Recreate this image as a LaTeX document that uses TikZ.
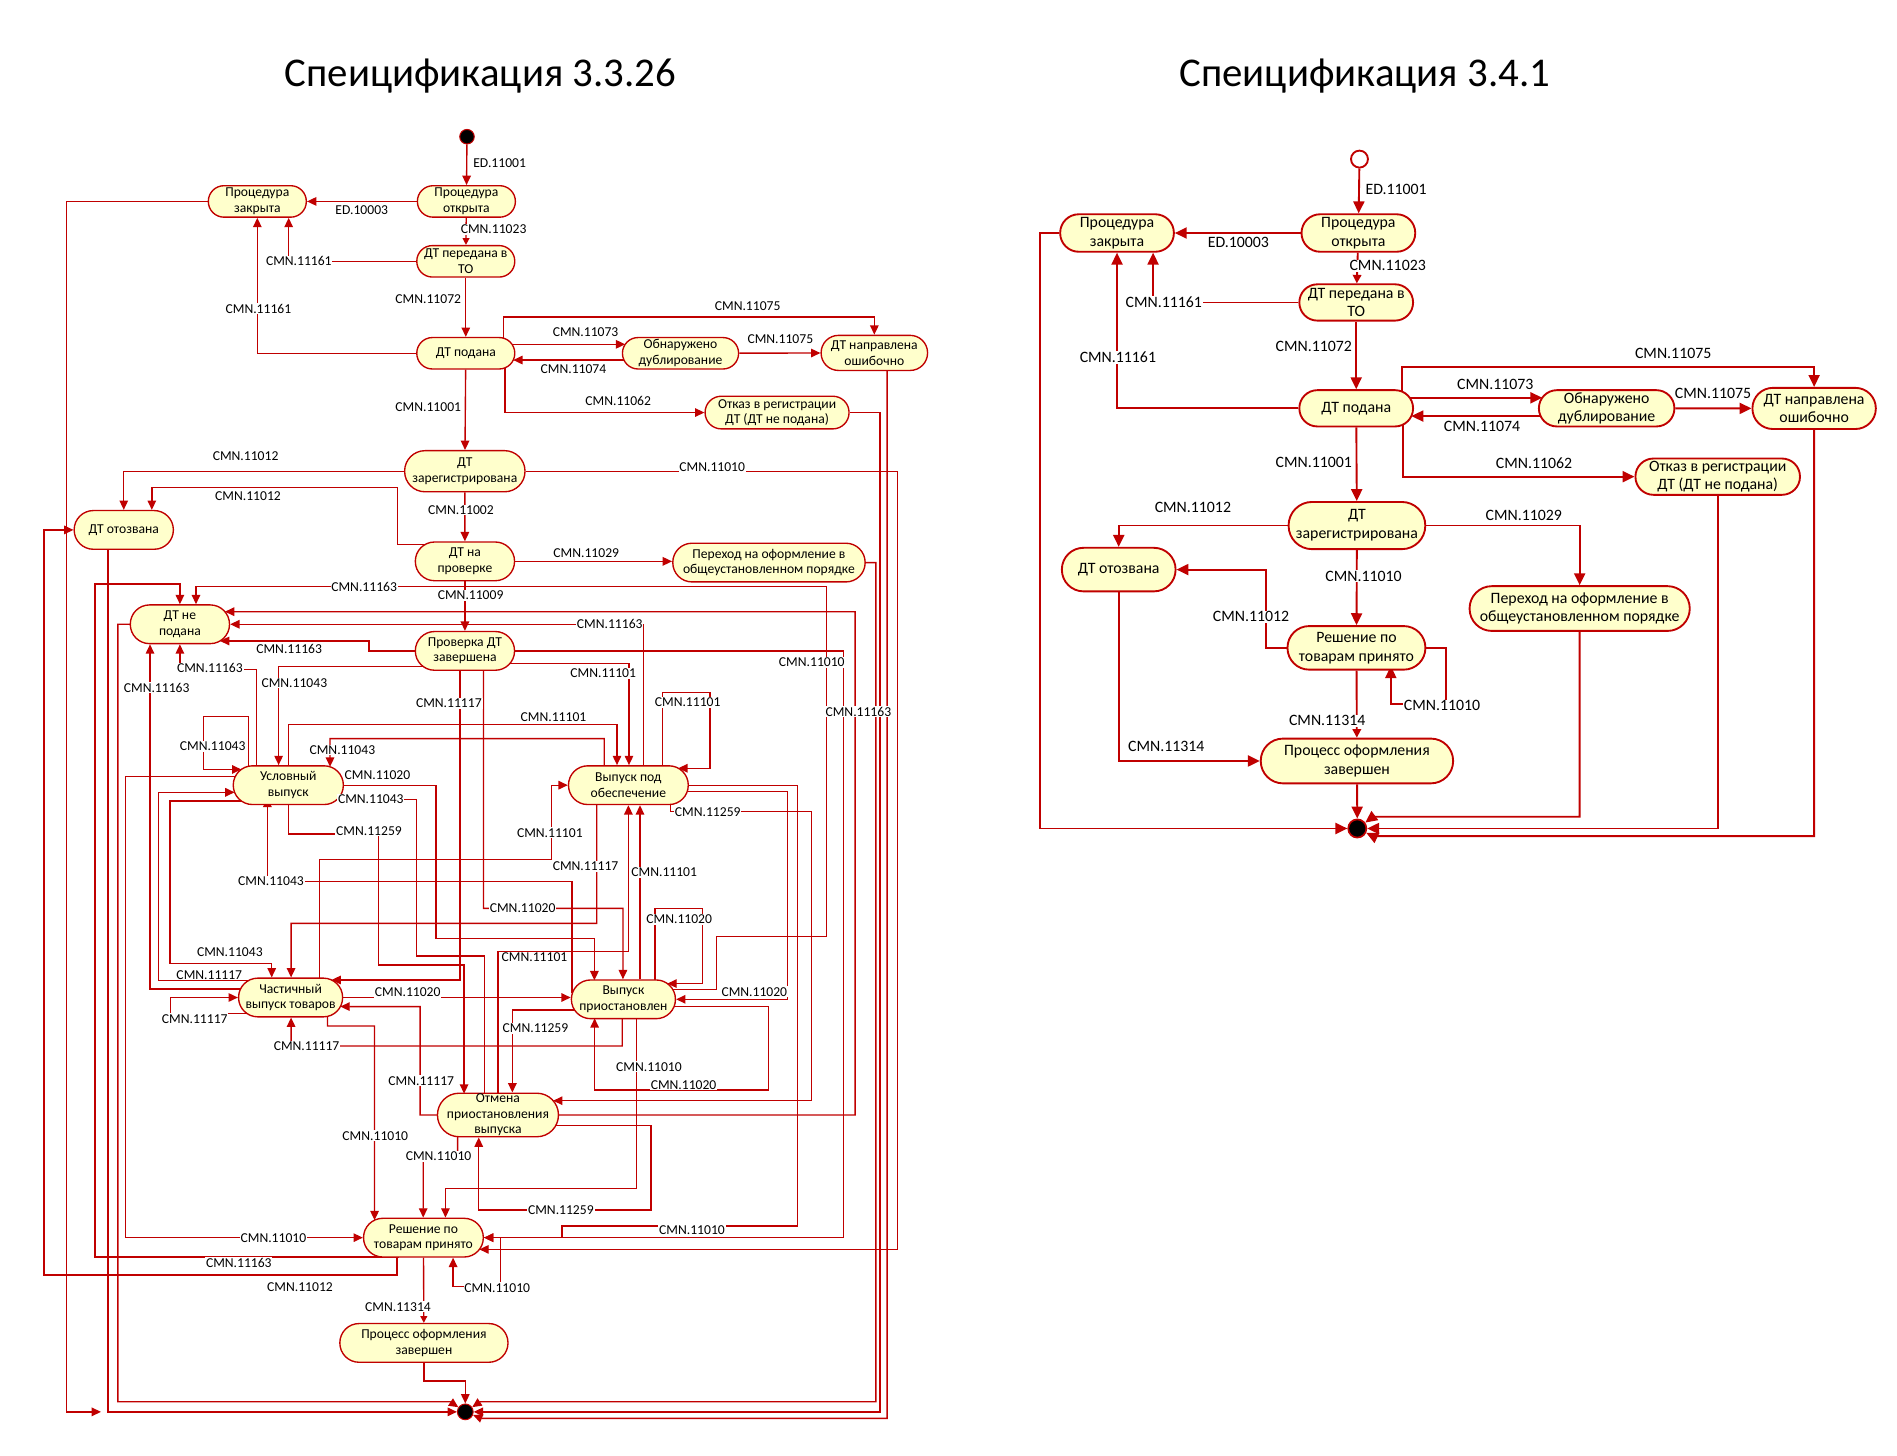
\documentclass[tikz,border=0pt]{standalone}
\usepackage{fontspec}
\setmainfont{Carlito}
\usetikzlibrary{arrows.meta,calc,backgrounds}
\definecolor{dred}{RGB}{192,0,0}
\definecolor{pale}{RGB}{255,255,204}
\newcommand{\sfnt}{\fontsize{8}{9.2}\selectfont}
\newcommand{\bfnt}{\fontsize{9.3}{11}\selectfont}
\tikzstyle{state} = [rectangle, draw=dred, fill=pale, align=center, inner sep=0pt]
\tikzset{
  lst/.style 2 args={state, line width=0.8pt, font=\sfnt, minimum width=#1*0.025cm,
    minimum height=#2*0.025cm, rounded corners=#2*0.0124cm},
  rst/.style 2 args={state, line width=1.1pt, font=\bfnt, minimum width=#1*0.025cm,
    minimum height=#2*0.025cm, rounded corners=#2*0.0124cm}
}
\tikzstyle{dot} = [circle, fill=black, draw=dred, line width=0.6pt, inner sep=0pt]
\tikzstyle{tr} = [draw=dred, line width=0.8pt]
\tikzstyle{rtr} = [draw=dred, line width=1.1pt]
\tikzstyle{lbl} = [fill=white, inner sep=0.5pt, font=\sfnt]
\tikzstyle{rlbl} = [fill=white, inner sep=0.5pt, font=\bfnt]

\begin{document}
\begin{tikzpicture}[x=0.025cm, y=-0.025cm, >={Triangle[length=5.5pt,width=5pt]}]
\useasboundingbox (0,0) rectangle (1568,1203);

% titles
\node[font=\fontsize{24}{28}\selectfont] (ttl) at (397,63) {Спеицификация 3.3.26};
\node[font=\fontsize{24}{28}\selectfont] (ttr) at (1128,63) {Спеицификация 3.4.1};

% ---------------- specification 3.3.26 ----------------
\node[dot, minimum size=0.3cm] (li) at (386,113) {};
\node[lst={81}{26}] (lopen) at (385.5,166.5) {Процедура\\открыта};
\node[lst={81}{26}] (lclosed) at (212.7,166.5) {Процедура\\закрыта};
\node[lst={81}{26}] (lsent) at (385,216) {ДТ передана в\\ТО};
\node[lst={81}{26}] (lfiled) at (385,292) {ДТ подана};
\node[lst={96}{26}] (ldup) at (562.5,292) {Обнаружено\\дублирование};
\node[lst={88}{29}] (lwrong) at (722.7,291.7) {ДТ направлена\\ошибочно};
\node[lst={119}{27}] (lrefuse) at (642.3,341) {Отказ в регистрации\\ДТ (ДТ не подана)};
\node[lst={99.5}{34}] (lreg) at (384.2,389.5) {ДТ\\зарегистрирована};
\node[lst={82}{32}] (lrecall) at (102.3,438) {ДТ отозвана};
\node[lst={82}{32}] (lcheck) at (384.3,464) {ДТ на\\проверке};
\node[lst={159}{32}] (lgen) at (635.6,465) {Переход на оформление в\\общеустановленном порядке};
\node[lst={82}{32}] (lnot) at (148.7,516) {ДТ не\\подана};
\node[lst={82}{32}] (ldone) at (384.3,538) {Проверка ДТ\\завершена};
\node[lst={91}{32}] (lcond) at (238.3,649) {Условный\\выпуск};
\node[lst={99}{32}] (lsec) at (519.4,649) {Выпуск под\\обеспечение};
\node[lst={86}{32}] (lpart) at (240.2,824.5) {Частичный\\выпуск товаров};
\node[lst={86}{32}] (lsusp) at (515.3,826) {Выпуск\\приостановлен};
\node[lst={100}{36}] (lcancel) at (411.6,921.6) {Отмена\\приостановления\\выпуска};
\node[lst={99}{32}] (ldec) at (350,1023) {Решение по\\товарам принято};
\node[lst={139}{32}] (lend) at (350.4,1110) {Процесс оформления\\завершен};
\node[dot, minimum size=0.325cm] (lf) at (384.6,1167) {};
\coordinate (lstub) at (83.5,1167);

% ---------------- specification 3.4.1 ----------------
\node[circle, draw=dred, fill=white, line width=1.1pt, minimum size=0.35cm, inner sep=0pt] (ri) at (1123.7,131.5) {};
\node[rst={94}{31}] (ropen) at (1122.8,192.6) {Процедура\\открыта};
\node[rst={94}{31}] (rclosed) at (923.3,192.6) {Процедура\\закрыта};
\node[rst={94}{30}] (rsent) at (1121,250) {ДТ передана в\\ТО};
\node[rst={94}{30}] (rfiled) at (1121,337.5) {ДТ подана};
\node[rst={112}{30}] (rdup) at (1328,337.5) {Обнаружено\\дублирование};
\node[rst={102}{34}] (rwrong) at (1499.5,337.6) {ДТ направлена\\ошибочно};
\node[rst={136}{30}] (rrefuse) at (1419.8,394) {Отказ в регистрации\\ДТ (ДТ не подана)};
\node[rst={113}{39}] (rreg) at (1121.6,434.4) {ДТ\\зарегистрирована};
\node[rst={94}{36}] (rrecall) at (924.7,470.8) {ДТ отозвана};
\node[rst={182}{37}] (rgen) at (1305.7,503) {Переход на оформление в\\общеустановленном порядке};
\node[rst={114}{36}] (rdec) at (1121.2,535.5) {Решение по\\товарам принято};
\node[rst={159}{37}] (rend) at (1121.6,629) {Процесс оформления\\завершен};
\node[dot, line width=1pt, minimum size=0.375cm] (rf) at (1121.9,684.8) {};

\begin{scope}[on background layer]
  % left connectors
  \draw[tr,->] (li) -- (lopen);
  \draw[tr,->] (lopen) -- (lclosed);
  \draw[tr,-{Triangle[length=4pt,width=4pt]}] (lopen) -- (lsent);
  \draw[tr,->] (lsent.west) -| ($(lclosed.south)+(25.9,0)$);
  \draw[tr,->] (lfiled.west) -| (lclosed.south);
  \draw[tr,->] (lsent) -- (lfiled);
  \draw[tr,->] ($(lfiled)+(31,-10)$) -- (416,262) -| (lwrong.north);
  \draw[tr,->] ($(lfiled)+(30,-7.4)$) -- ($(ldup)+(-45.7,-7.4)$);
  \draw[tr,->] ($(ldup)+(-40,5.6)$) -- ($(lfiled)+(39.2,5.6)$);
  \draw[tr,->] (ldup) -- (lwrong);
  \draw[tr,->] ($(lfiled)+(32.4,8)$) |- (lrefuse.west);
  \draw[tr,->] (lfiled) -- (lreg);
  \draw[tr,->] (lreg.west) -| (lrecall.north);
  \draw[tr,->] (lreg.east) -- (742,389.5) |- ($(ldec)+(46.2,9.7)$);
  \draw[tr,->] (lreg) -- (lcheck);
  \draw[tr,->] ($(lcheck)+(-20,-14)$) -- (328.3,450) -- (328.3,403) -| ($(lrecall.north)+(23.2,0)$);
  \draw[tr,->] (lcheck.east) -- (lcheck.east -| lgen.west);
  \draw[tr,->] (lcheck) -- (ldone);
  \draw[tr,->] (lgen.east) -| (724,1158.6) -- (397,1158.6) -- (lf);
  \draw[tr,->] (lrefuse.east) -| (727.5,1167) -- (lf);
  \draw[tr,->] ($(lwrong)+(10.6,10)$) |- (398,1172.4) -- (lf);
  \draw[tr,->] (lclosed.west) -| (55,1167) -- (lstub);
  \draw[tr,->] ($(lrecall)+(-13.1,10)$) |- (lf);
  \draw[tr,->] ($(lnot)+(-40,0)$) -| (97.4,1158.6) -- (372,1158.6) -- (lf);
  \draw[tr,->] ($(ldec)+(-20,16)$) -| (78.4,482.7) -| (lnot.north);
  \draw[tr,->] ($(ldec)+(-22,10)$) |- (36.4,1054) |- (lrecall.west);
  \draw[tr,->] ($(lcond)+(-30,-7)$) -| (103.7,1023) -- (ldec.west);
  \draw[tr,->] ($(lsusp)+(30,-8)$) -| (592.4,774.2) -| (683.4,485) -| ($(lnot.north)+(13.3,0)$);
  \draw[tr,->] (lcancel.east) -| (706.8,505.6) -- ($(lnot)+(37.2,-10.4)$);
  \draw[tr,->] ($(lsec)+(12.4,-10)$) |- (lnot.east);
  \draw[tr,->] (ldone.west) -| (305,529.8) -- ($(lnot)+(33.1,13.8)$);
  \draw[tr,->] ($(lcond)+(-26.1,-10)$) |- ($(lnot.south)+(0,21)$) -- (lnot.south);
  \draw[tr,->] ($(lpart)+(-40,-7)$) -| ($(lnot.south)+(-24.7,0)$);
  \draw[tr,->] ($(ldone)+(-22,13)$) -| ($(lcond.north)+(-8,0)$);
  \draw[tr,->] ($(lcond)+(-33,-10)$) |- (168,592.3) |- ($(lcond)+(-38.8,-13)$);
  \draw[tr,->] ($(lsec)+(-19.9,-10)$) |- (272.8,610.5) -- ($(lcond)+(34.5,-15.2)$);
  \draw[tr,->] (lcond) |- (510,598.7) -- ($(lsec.north)+(-9.4,0)$);
  \draw[tr,->] ($(ldone)+(20,10.3)$) -| ($(lsec.north)+(0.5,0)$);
  \draw[tr,->] ($(lsec)+(28.4,-10)$) |- (587,572.2) |- ($(lsec)+(41.2,-14)$);
  \draw[tr,->] ($(lpart)+(23.8,-10)$) |- (455.8,710.3) |- (lsec.west);
  \draw[tr,->] ($(lsusp.north)+(13.7,0)$) -- ($(lsec.south)+(9.6,0)$);
  \draw[tr,->] ($(lcancel)+(-0.1,-10)$) |- (519.4,786.6) -- (lsec.south);
  \draw[tr,->] ($(lsec)+(-26.2,10)$) |- (240.6,763.2) -- ($(lpart.north)+(0.4,0)$);
  \draw[tr,->] ($(ldone)+(-4,10)$) |- ($(lpart)+(33.8,-14.5)$);
  \draw[tr,->] ($(lcond)+(-23,13)$) -| (140.5,796.3) -| ($(lpart.north)+(-15.6,0)$);
  \draw[tr,->] ($(lpart)+(-25,-14)$) -| (130.9,654.9) -- ($(lcond)+(-44.4,5.9)$);
  \draw[tr,->] ($(lpart)+(-33,13)$) -| (141,824.5) -- (lpart.west);
  \draw[tr,->] ($(lsusp)+(-1,10)$) |- (240.6,864.6) -- ($(lpart.south)+(0.4,0)$);
  \draw[tr,->] (lcancel.west) -| (347.3,832) -- ($(lpart)+(41.1,7.5)$);
  \draw[tr,->] (lpart.east) -- (lsusp.west |- lpart.east);
  \draw[tr,->] (lcond.east) -| (360.4,775.6) -| ($(lsusp)+(-24,-15.7)$);
  \draw[tr,->] ($(ldone)+(15.3,10)$) |- (514.9,750.8) -- ($(lsusp.north)+(-0.4,0)$);
  \draw[tr,->] ($(lsusp)+(26.2,-10)$) |- (580.6,750.8) |- ($(lsusp)+(36.3,-13)$);
  \draw[tr,->] ($(lsec)+(35,5.4)$) -| (650.7,826) -- (lsusp.east);
  \draw[tr,->] ($(lsusp)+(30,6)$) -| (635.4,901) -| ($(lsusp)+(-23.8,15.7)$);
  \draw[tr,->] ($(lcond)+(0.1,10)$) |- (312.6,689.3) |- (383.6,797.6) -- ($(lcancel)+(-28,-17.6)$);
  \draw[tr,->] ($(lsec)+(35,10)$) |- (670.8,670.9) |- ($(lcancel)+(45.6,-11.8)$);
  \draw[tr,->] ($(lsusp)+(-30,8.8)$) -| ($(lcancel.north)+(11.9,0)$);
  \draw[tr,->] ($(lcancel)+(40,8.9)$) -| (538,1000.2) -| ($(lcancel.south)+(-15.9,0)$);
  \draw[tr,->] ($(lcancel)+(-11.2,-10)$) |- (344.4,790.2) |- ($(lcond)+(40.4,11.7)$);
  \draw[tr,->] ($(lsusp.west)+(1,-5)$) |- (221,728.7) -- ($(lcond)+(-17.3,10.4)$);
  \draw[tr,->] ($(lsusp)+(10.9,10)$) |- (368.2,982.3) -- ($(ldec.north)+(18.2,0)$);
  \draw[tr,->] ($(lpart)+(30.5,10)$) |- (309.6,848) -- ($(ldec)+(-40.4,-14.4)$);
  \draw[tr,->] ($(lcancel)+(-33.3,10)$) |- (349.8,956) -- ($(ldec.north)+(-0.2,0)$);
  \draw[tr,->] (lsec.east) -| (659,1013.4) -| (464.6,1023) -- (ldec.east);
  \draw[tr,->] (ldone.east) -| (697.3,1023) -- (ldec.east);
  \draw[tr,->] ($(ldec)+(40,0)$) -| (413.7,1063.5) -| ($(ldec.south)+(24.5,0)$);
  \draw[tr,-{Triangle[length=4pt,width=4pt]}] (ldec) -- (lend);
  \draw[tr,->] (lend) |- (384.6,1141.6) -- (lf);
\end{scope}

\begin{scope}[on background layer, >={Triangle[length=7pt,width=6.5pt]}]
  % right connectors
  \draw[rtr,->] (ri) -- (ropen);
  \draw[rtr,->] (ropen) -- (rclosed);
  \draw[rtr,-{Triangle[length=5pt,width=5pt]}] (ropen) -- (rsent);
  \draw[rtr,->] (rsent.west) -| ($(rclosed.south)+(29.8,0)$);
  \draw[rtr,->] (rfiled.west) -| (rclosed.south);
  \draw[rtr,->] (rsent) -- (rfiled);
  \draw[rtr,->] ($(rfiled)+(37.9,-10)$) -- (1158.9,303.1) -| (rwrong.north);
  \draw[rtr,->] ($(rfiled)+(35,-8.7)$) -- ($(rdup)+(-53.2,-8.7)$);
  \draw[rtr,->] ($(rdup)+(-45,6.4)$) -- ($(rfiled)+(45.6,6.4)$);
  \draw[rtr,->] (rdup) -- (rwrong);
  \draw[rtr,->] ($(rfiled)+(38.8,10)$) |- (rrefuse.west);
  \draw[rtr,->] (rfiled) -- (rreg);
  \draw[rtr,->] (rreg.west) -| (rrecall.north);
  \draw[rtr,->] (rreg.east) -| (rgen.north);
  \draw[rtr,->] (rreg) -- (rdec);
  \draw[rtr,->] (rdec.west) -| (1046.5,470.8) -- (rrecall.east);
  \draw[rtr,->] (rdec.east) -| (1195.4,582) -| ($(rdec)+(28.4,15.1)$);
  \draw[rtr,-{Triangle[length=5pt,width=5pt]}] (rdec) -- (rend);
  \draw[rtr,->] (rrecall) |- (rend.west);
  \draw[rtr,->] (rend) -- (rf);
  \draw[rtr,->] (rclosed.west) -| (859.3,684.8) -- (rf);
  \draw[rtr,->] (rgen) |- (1135,675.1) -- (rf);
  \draw[rtr,->] (rrefuse) |- (rf);
  \draw[rtr,->] (rwrong) |- (1135,691.1) -- (rf);
\end{scope}

% left labels
\node[lbl] (m1) at (413,135) {ED.11001};
\node[lbl] (m2) at (299,173.5) {ED.10003};
\node[lbl] (m3) at (408,189.6) {CMN.11023};
\node[lbl] (m4) at (247,216) {CMN.11161};
\node[lbl] (m5) at (213.6,255.4) {CMN.11161};
\node[lbl] (m6) at (354,247.2) {CMN.11072};
\node[lbl] (m7) at (618,252.7) {CMN.11075};
\node[lbl] (m8) at (484,274.7) {CMN.11073};
\node[lbl] (m9) at (645,280.5) {CMN.11075};
\node[lbl] (m10) at (474,304.8) {CMN.11074};
\node[lbl] (m11) at (511,331.2) {CMN.11062};
\node[lbl] (m12) at (354,336.7) {CMN.11001};
\node[lbl] (m13) at (203,377) {CMN.11012};
\node[lbl] (m14) at (588.7,386) {CMN.11010};
\node[lbl] (m15) at (205,410) {CMN.11012};
\node[lbl] (m16) at (381,421.5) {CMN.11002};
\node[lbl] (m17) at (484.6,457.6) {CMN.11029};
\node[lbl] (m18) at (301,485) {CMN.11163};
\node[lbl] (m19) at (389,492.3) {CMN.11009};
\node[lbl] (m20) at (504,516) {CMN.11163};
\node[lbl] (m21) at (239,536.7) {CMN.11163};
\node[lbl] (m22) at (671,547.5) {CMN.11010};
\node[lbl] (m23) at (173.5,552.4) {CMN.11163};
\node[lbl] (m24) at (498.6,556.6) {CMN.11101};
\node[lbl] (m25) at (243.3,564.5) {CMN.11043};
\node[lbl] (m26) at (129.5,568.4) {CMN.11163};
\node[lbl] (m27) at (371,581.3) {CMN.11117};
\node[lbl] (m28) at (568.4,580.5) {CMN.11101};
\node[lbl] (m29) at (709.5,588.2) {CMN.11163};
\node[lbl] (m30) at (457.5,592.4) {CMN.11101};
\node[lbl] (m31) at (175.8,617) {CMN.11043};
\node[lbl] (m32) at (283,619.9) {CMN.11043};
\node[lbl] (m33) at (312,641) {CMN.11020};
\node[lbl] (m34) at (306.5,660.7) {CMN.11043};
\node[lbl] (m35) at (585,670.9) {CMN.11259};
\node[lbl] (m36) at (305,686.9) {CMN.11259};
\node[lbl] (m37) at (454.5,688.3) {CMN.11101};
\node[lbl] (m38) at (484,716.3) {CMN.11117};
\node[lbl] (m39) at (549,721) {CMN.11101};
\node[lbl] (m40) at (224,728.7) {CMN.11043};
\node[lbl] (m41) at (432,750.8) {CMN.11020};
\node[lbl] (m42) at (561.4,759.9) {CMN.11020};
\node[lbl] (m43) at (190,786.6) {CMN.11043};
\node[lbl] (m44) at (441.8,791.5) {CMN.11101};
\node[lbl] (m45) at (173,806) {CMN.11117};
\node[lbl] (m46) at (337,820.2) {CMN.11020};
\node[lbl] (m47) at (623.5,819.7) {CMN.11020};
\node[lbl] (m48) at (161,842) {CMN.11117};
\node[lbl] (m49) at (442.6,850) {CMN.11259};
\node[lbl] (m50) at (253.4,864.6) {CMN.11117};
\node[lbl] (m51) at (536.4,881.7) {CMN.11010};
\node[lbl] (m52) at (348.2,893.3) {CMN.11117};
\node[lbl] (m53) at (565,896.8) {CMN.11020};
\node[lbl] (m54) at (310.2,938.7) {CMN.11010};
\node[lbl] (m55) at (362.5,956) {CMN.11010};
\node[lbl] (m56) at (463.6,1000.2) {CMN.11259};
\node[lbl] (m57) at (226,1023) {CMN.11010};
\node[lbl] (m58) at (572,1016.7) {CMN.11010};
\node[lbl] (m59) at (197.4,1043.7) {CMN.11163};
\node[lbl] (m60) at (248,1063.6) {CMN.11012};
\node[lbl] (m61) at (411,1064.4) {CMN.11010};
\node[lbl] (m62) at (329,1080.1) {CMN.11314};

% right labels
\node[rlbl] (n1) at (1154,156.5) {ED.11001};
\node[rlbl] (n2) at (1023.6,200.6) {ED.10003};
\node[rlbl] (n3) at (1147,219.6) {CMN.11023};
\node[rlbl] (n4) at (962,250) {CMN.11161};
\node[rlbl] (n5) at (924,295.4) {CMN.11161};
\node[rlbl] (n6) at (1086,286) {CMN.11072};
\node[rlbl] (n7) at (1383,292) {CMN.11075};
\node[rlbl] (n8) at (1236,318) {CMN.11073};
\node[rlbl] (n9) at (1225,352.7) {CMN.11074};
\node[rlbl] (n10) at (1416,325) {CMN.11075};
\node[rlbl] (n11) at (1268,383) {CMN.11062};
\node[rlbl] (n12) at (1086,382) {CMN.11001};
\node[rlbl] (n13) at (986,419.4) {CMN.11012};
\node[rlbl] (n14) at (1259.5,426.3) {CMN.11029};
\node[rlbl] (n15) at (1127,476.2) {CMN.11010};
\node[rlbl] (n16) at (1034,509.8) {CMN.11012};
\node[rlbl] (n17) at (1192,583.4) {CMN.11010};
\node[rlbl] (n18) at (1097,595.8) {CMN.11314};
\node[rlbl] (n19) at (964,617.2) {CMN.11314};
\end{tikzpicture}
\end{document}
